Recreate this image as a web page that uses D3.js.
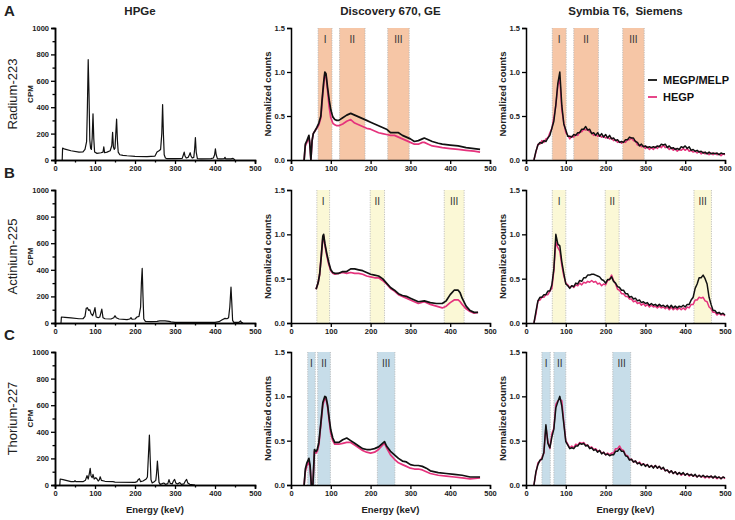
<!DOCTYPE html>
<html><head><meta charset="utf-8">
<script src="https://cdn.jsdelivr.net/npm/d3@7"></script>
<style>
body{margin:0;background:#fff;}
text{font-family:"Liberation Sans",Arial,sans-serif;}
</style></head>
<body><svg id="c" width="735" height="520"></svg>
<script>
// ---------------- DATA ----------------
const columnTitles = ["HPGe", "Discovery 670, GE", "Symbia T6,  Siemens"];
const rowLetters = ["A", "B", "C"];
const isotopes = ["Radium-223", "Actinium-225", "Thorium-227"];
const seriesNames = ["MEGP/MELP", "HEGP"];
const romans = ["I", "II", "III"];
const xTicks = [0, 100, 200, 300, 400, 500];
const cpmTicks = [0, 200, 400, 600, 800, 1000];
const normTicks = [0, 0.5, 1.0, 1.5];

// HPGe spectra [energy keV, CPM]
const hpgeRa = [[18,0],[19,90],[25,82],[40,70],[60,60],[70,62],[75,80],[79,140],[81,400],[83,760],[85,500],[87,150],[89,90],[91,80],[93,170],[95,350],[97,160],[99,60],[105,50],[115,55],[120,60],[122,100],[124,55],[130,60],[138,70],[142,110],[144,210],[146,100],[148,80],[150,90],[152,200],[154,310],[156,150],[158,60],[162,40],[170,35],[180,32],[200,28],[230,25],[250,30],[255,60],[260,70],[264,80],[267,200],[269,420],[271,200],[273,40],[276,15],[280,10],[300,10],[318,12],[321,40],[323,60],[325,30],[328,15],[333,20],[336,40],[338,55],[340,30],[343,15],[347,20],[349,80],[351,170],[353,60],[356,10],[365,8],[390,10],[396,15],[399,40],[401,85],[403,40],[406,10],[415,8],[423,10],[425,20],[427,8],[440,8],[445,12],[448,5],[450,0]];
const hpgeAc = [[15,0],[16,45],[25,42],[40,38],[60,32],[70,32],[75,50],[78,110],[81,115],[84,95],[87,100],[90,70],[94,55],[97,80],[100,115],[103,45],[108,40],[112,45],[115,80],[117,105],[120,40],[125,32],[140,30],[147,40],[150,55],[153,40],[160,30],[180,25],[187,30],[190,40],[193,28],[200,30],[205,45],[210,50],[214,120],[216,300],[218,410],[220,200],[222,30],[226,12],[240,10],[255,12],[262,16],[275,16],[285,12],[290,8],[300,5],[350,4],[400,5],[410,10],[418,25],[425,35],[430,32],[434,40],[437,120],[440,270],[442,150],[444,20],[447,5],[460,5],[464,15],[466,5],[470,0]];
const hpgeTh = [[12,0],[13,45],[20,40],[40,25],[48,25],[50,32],[52,25],[70,25],[76,35],[80,70],[83,45],[86,90],[88,125],[90,70],[93,55],[95,80],[98,45],[102,55],[105,45],[108,30],[111,40],[113,62],[116,35],[125,28],[145,25],[150,22],[200,20],[205,25],[208,40],[211,48],[214,25],[220,30],[228,45],[231,60],[234,250],[236,375],[238,200],[240,40],[243,15],[248,25],[252,35],[254,90],[256,180],[258,100],[260,20],[263,5],[268,10],[272,15],[276,5],[282,10],[285,40],[288,12],[293,8],[296,30],[299,42],[302,15],[306,8],[312,18],[316,5],[322,8],[326,30],[329,42],[332,15],[337,5],[345,2],[350,0]];

// Discovery 670 spectra [energy keV, normalized counts]
const discRaK = [[33,0],[36,0.18],[40,0.22],[45,0.28],[47,0.2],[50,0],[53,0.22],[56,0.3],[60,0.33],[65,0.37],[70,0.42],[75,0.5],[78,0.68],[82,0.88],[85,1.0],[88,0.98],[92,0.82],[96,0.68],[100,0.57],[105,0.49],[110,0.46],[115,0.45],[120,0.45],[130,0.48],[140,0.51],[150,0.53],[160,0.51],[170,0.49],[180,0.47],[190,0.45],[200,0.43],[210,0.41],[220,0.39],[230,0.37],[240,0.35],[250,0.31],[260,0.31],[270,0.31],[280,0.28],[290,0.26],[300,0.24],[310,0.21],[320,0.22],[330,0.24],[335,0.25],[345,0.23],[355,0.21],[370,0.19],[380,0.18],[400,0.17],[420,0.16],[440,0.14],[460,0.13],[475,0.12]];
const discRaH = [[33,0],[36,0.16],[40,0.2],[45,0.26],[47,0.19],[50,0],[53,0.22],[56,0.3],[60,0.33],[65,0.36],[70,0.4],[75,0.48],[78,0.65],[82,0.85],[85,0.98],[88,0.96],[92,0.78],[96,0.6],[100,0.48],[105,0.42],[110,0.4],[115,0.39],[120,0.39],[130,0.41],[140,0.44],[150,0.46],[160,0.42],[170,0.4],[180,0.38],[190,0.36],[200,0.35],[210,0.33],[220,0.31],[230,0.3],[240,0.29],[250,0.28],[260,0.28],[270,0.26],[280,0.24],[290,0.22],[300,0.2],[310,0.18],[320,0.18],[330,0.2],[335,0.2],[345,0.18],[355,0.16],[370,0.15],[380,0.14],[400,0.13],[420,0.12],[440,0.11],[460,0.1],[475,0.09]];
const discAcK = [[63,0.38],[68,0.45],[72,0.55],[76,0.75],[80,0.98],[82,1.0],[85,0.9],[90,0.78],[95,0.68],[100,0.6],[105,0.57],[110,0.56],[120,0.56],[130,0.58],[140,0.58],[150,0.61],[160,0.61],[170,0.6],[180,0.59],[190,0.57],[200,0.55],[210,0.54],[220,0.53],[230,0.5],[240,0.45],[250,0.4],[260,0.37],[270,0.33],[280,0.31],[290,0.3],[300,0.28],[310,0.26],[320,0.24],[335,0.25],[350,0.23],[365,0.22],[380,0.22],[390,0.25],[400,0.32],[410,0.37],[420,0.37],[425,0.34],[430,0.28],[440,0.19],[450,0.14],[460,0.12],[470,0.12]];
const discAcH = [[63,0.38],[68,0.45],[72,0.55],[76,0.75],[80,0.96],[82,0.98],[85,0.88],[90,0.76],[95,0.66],[100,0.59],[105,0.56],[110,0.55],[120,0.56],[130,0.57],[140,0.56],[150,0.57],[160,0.56],[170,0.56],[180,0.55],[190,0.53],[200,0.52],[210,0.51],[220,0.51],[230,0.48],[240,0.44],[250,0.39],[260,0.36],[270,0.32],[280,0.3],[290,0.28],[300,0.26],[310,0.24],[320,0.22],[335,0.24],[350,0.21],[365,0.19],[380,0.17],[390,0.19],[400,0.23],[410,0.26],[420,0.26],[425,0.24],[430,0.21],[440,0.16],[450,0.13],[460,0.11],[470,0.12]];
const discThK = [[33,0],[36,0.18],[40,0.25],[45,0.3],[48,0.22],[51,0],[55,0],[57,0.2],[59,0.4],[63,0.38],[66,0.4],[70,0.48],[75,0.7],[80,0.93],[85,1.0],[88,0.99],[92,0.9],[96,0.75],[100,0.62],[105,0.53],[110,0.48],[120,0.48],[130,0.51],[140,0.53],[150,0.5],[160,0.47],[170,0.44],[180,0.41],[190,0.4],[200,0.4],[210,0.41],[220,0.43],[230,0.47],[235,0.49],[240,0.44],[250,0.38],[260,0.34],[270,0.3],[280,0.27],[290,0.26],[300,0.23],[310,0.22],[320,0.22],[330,0.21],[340,0.19],[350,0.16],[370,0.14],[390,0.13],[410,0.12],[430,0.11],[450,0.09],[475,0.09]];
const discThH = [[33,0],[36,0.15],[40,0.22],[45,0.26],[48,0.2],[51,0],[55,0],[57,0.2],[59,0.38],[63,0.36],[66,0.38],[70,0.45],[75,0.68],[80,0.9],[85,0.98],[88,0.97],[92,0.88],[96,0.72],[100,0.58],[105,0.5],[110,0.46],[120,0.46],[130,0.47],[140,0.48],[150,0.48],[160,0.45],[170,0.42],[180,0.39],[190,0.37],[200,0.36],[210,0.37],[220,0.4],[230,0.45],[235,0.47],[240,0.42],[250,0.34],[260,0.29],[270,0.25],[280,0.23],[290,0.21],[300,0.19],[310,0.18],[320,0.18],[330,0.17],[340,0.15],[350,0.13],[370,0.11],[390,0.1],[410,0.09],[430,0.08],[450,0.07],[475,0.08]];

// Symbia T6 spectra: one value per 5 keV channel, 20..500 keV
const symbiaEnergies = d3.range(20, 501, 5);
const symRaK = [0.00,0.10,0.17,0.20,0.19,0.22,0.21,0.25,0.28,0.36, 0.44,0.63,0.87,1.00,0.62,0.41,0.34,0.27,0.27,0.26, 0.29,0.28,0.31,0.31,0.35,0.35,0.38,0.34,0.35,0.30, 0.31,0.28,0.31,0.27,0.30,0.26,0.29,0.25,0.28,0.24, 0.25,0.22,0.23,0.20,0.21,0.20,0.23,0.23,0.26,0.25, 0.25,0.21,0.20,0.16,0.18,0.15,0.16,0.14,0.15,0.14, 0.15,0.14,0.16,0.15,0.18,0.17,0.18,0.14,0.16,0.13, 0.14,0.12,0.13,0.12,0.15,0.14,0.16,0.13,0.15,0.11, 0.12,0.10,0.11,0.09,0.10,0.08,0.09,0.07,0.09,0.07, 0.08,0.07,0.08,0.06,0.08,0.07,0.07];
const symRaH = [0.00,0.09,0.18,0.18,0.22,0.20,0.24,0.25,0.31,0.36, 0.48,0.62,0.85,0.92,0.57,0.42,0.31,0.28,0.24,0.27, 0.26,0.29,0.28,0.32,0.32,0.35,0.34,0.35,0.32,0.31, 0.28,0.29,0.27,0.28,0.26,0.27,0.25,0.26,0.24,0.25, 0.22,0.23,0.20,0.21,0.19,0.21,0.20,0.23,0.23,0.25, 0.22,0.22,0.17,0.17,0.15,0.16,0.13,0.15,0.12,0.14, 0.12,0.15,0.13,0.16,0.14,0.17,0.14,0.15,0.12,0.14, 0.11,0.13,0.10,0.12,0.11,0.13,0.11,0.13,0.10,0.11, 0.09,0.10,0.08,0.10,0.07,0.09,0.07,0.08,0.06,0.08, 0.06,0.08,0.06,0.07,0.05,0.07,0.06];
const symAcK = [0.00,0.13,0.25,0.29,0.29,0.32,0.32,0.36,0.36,0.43, 0.61,1.00,0.89,0.87,0.69,0.56,0.44,0.42,0.39,0.42, 0.41,0.45,0.44,0.48,0.47,0.51,0.51,0.54,0.54,0.55, 0.55,0.54,0.53,0.52,0.49,0.48,0.45,0.49,0.49,0.52, 0.47,0.45,0.41,0.40,0.37,0.37,0.33,0.33,0.29,0.30, 0.27,0.28,0.25,0.26,0.23,0.24,0.22,0.23,0.20,0.22, 0.20,0.21,0.19,0.21,0.19,0.20,0.18,0.20,0.17,0.20, 0.17,0.19,0.17,0.19,0.18,0.20,0.18,0.21,0.21,0.26, 0.29,0.39,0.44,0.51,0.51,0.54,0.50,0.44,0.29,0.21, 0.14,0.14,0.11,0.12,0.10,0.11,0.09];
const symAcH = [0.00,0.10,0.25,0.26,0.29,0.29,0.32,0.32,0.36,0.39, 0.59,0.92,0.85,0.81,0.65,0.53,0.45,0.43,0.40,0.42, 0.40,0.43,0.42,0.45,0.43,0.46,0.45,0.47,0.46,0.48, 0.46,0.47,0.44,0.45,0.42,0.44,0.43,0.48,0.49,0.54, 0.48,0.44,0.38,0.37,0.33,0.33,0.30,0.30,0.27,0.27, 0.24,0.25,0.22,0.23,0.20,0.22,0.19,0.21,0.18,0.20, 0.18,0.19,0.17,0.19,0.17,0.18,0.16,0.18,0.15,0.18, 0.15,0.17,0.15,0.17,0.15,0.17,0.15,0.18,0.17,0.21, 0.21,0.26,0.26,0.29,0.28,0.29,0.25,0.24,0.18,0.16, 0.12,0.12,0.09,0.11,0.09,0.10,0.08];
const symThK = [0.00,0.15,0.23,0.28,0.29,0.37,0.68,0.47,0.42,0.54, 0.63,0.87,0.94,1.00,0.89,0.69,0.49,0.45,0.41,0.42, 0.41,0.44,0.44,0.47,0.46,0.47,0.44,0.45,0.41,0.42, 0.39,0.40,0.37,0.39,0.35,0.37,0.34,0.35,0.33,0.34, 0.34,0.38,0.38,0.41,0.38,0.38,0.33,0.32,0.28,0.29, 0.26,0.27,0.24,0.25,0.22,0.24,0.21,0.23,0.20,0.22, 0.19,0.22,0.19,0.21,0.18,0.20,0.16,0.17,0.14,0.16, 0.13,0.15,0.12,0.14,0.12,0.14,0.11,0.13,0.11,0.12, 0.10,0.12,0.09,0.11,0.09,0.11,0.09,0.10,0.09,0.10, 0.08,0.10,0.08,0.09,0.07,0.09,0.08];
const symThH = [0.00,0.14,0.25,0.27,0.31,0.36,0.66,0.49,0.41,0.58, 0.64,0.91,0.95,0.97,0.95,0.71,0.50,0.46,0.42,0.44, 0.42,0.46,0.45,0.48,0.47,0.48,0.45,0.45,0.42,0.43, 0.40,0.41,0.38,0.39,0.36,0.37,0.34,0.36,0.34,0.36, 0.36,0.41,0.41,0.44,0.40,0.39,0.34,0.33,0.29,0.29, 0.26,0.27,0.24,0.26,0.23,0.24,0.22,0.23,0.20,0.22, 0.20,0.22,0.19,0.21,0.18,0.19,0.16,0.17,0.14,0.16, 0.13,0.15,0.12,0.14,0.11,0.13,0.11,0.13,0.10,0.12, 0.10,0.11,0.09,0.11,0.09,0.10,0.08,0.10,0.08,0.10, 0.08,0.09,0.07,0.09,0.07,0.09,0.07];

// energy windows (keV) per row, per camera
const winRa = [[[68,103],[122,186],[243,297]], [[66,101],[120,182],[243,297]]];
const winAc = [[[65,97],[199,235],[385,435]], [[66,100],[199,234],[422,466]]];
const winTh = [[[42,61],[67,99],[217,261]], [[40,61],[70,100],[218,263]]];

// ---------------- DRAW ----------------
const svg = d3.select("#c");
const FONT = '"Liberation Sans",Arial,sans-serif';
const colX = [[55,255],[291,490],[526,725]];
const rowY = [[28,160],[190,323],[352,485]];
const colorK = "#111111", colorH = "#e5327c";
const winFill = ["#f6c6a6", "#fbf8d6", "#c7dde9"];

const hpgeData = [hpgeRa, hpgeAc, hpgeTh];
const discData = [[discRaK, discRaH], [discAcK, discAcH], [discThK, discThH]];
const symData = [[symRaK, symRaH], [symAcK, symAcH], [symThK, symThH]];
const windows = [winRa, winAc, winTh];

function drawAxes(g, x, y, yTicks, yFmt, minorX, minorY) {
  g.append("g").attr("transform", `translate(0,${y.range()[0]})`)
    .call(d3.axisBottom(x).tickValues(xTicks).tickSize(4).tickPadding(2).tickFormat(d3.format("d")));
  if (minorX) g.append("g").attr("transform", `translate(0,${y.range()[0]})`)
    .call(d3.axisBottom(x).tickValues(minorX).tickSize(2.5).tickFormat(""));
  g.append("g").attr("transform", `translate(${x.range()[0]},0)`)
    .call(d3.axisLeft(y).tickValues(yTicks).tickSize(4).tickPadding(2).tickFormat(yFmt));
  if (minorY) g.append("g").attr("transform", `translate(${x.range()[0]},0)`)
    .call(d3.axisLeft(y).tickValues(minorY).tickSize(2.5).tickFormat(""));
  g.selectAll(".domain").attr("stroke", "#000").attr("stroke-width", 1.5);
  g.selectAll(".tick line").attr("stroke", "#000").attr("stroke-width", 1.3);
  g.selectAll(".tick text").attr("font-family", FONT).attr("font-size", 7.5)
    .attr("font-weight", "bold").attr("fill", "#222");
}

rowY.forEach(([y0, y1], r) => {
  // ---- HPGe ----
  {
    const g = svg.append("g");
    const x = d3.scaleLinear().domain([0, 500]).range(colX[0]);
    const y = d3.scaleLinear().domain([0, 1000]).range([y1, y0]);
    g.append("path").datum(hpgeData[r]).attr("fill", "none").attr("stroke", "#111")
      .attr("stroke-width", 1.2).attr("stroke-linejoin", "round")
      .attr("d", d3.line().x(d => x(d[0])).y(d => y(d[1])));
    drawAxes(g, x, y, cpmTicks, d3.format("d"), d3.range(50, 500, 100), d3.range(100, 1000, 200));
    svg.append("text").attr("transform", `translate(17,${(y0 + y1) / 2}) rotate(-90)`)
      .attr("text-anchor", "middle").attr("font-size", 13).attr("fill", "#222")
      .attr("font-family", FONT).text(isotopes[r]);
    svg.append("text").attr("transform", `translate(33,${(y0 + y1) / 2}) rotate(-90)`)
      .attr("text-anchor", "middle").attr("font-size", 8).attr("font-weight", "bold")
      .attr("fill", "#222").attr("font-family", FONT).text("CPM");
  }
  // ---- Discovery & Symbia ----
  [1, 2].forEach(c => {
    const g = svg.append("g");
    const x = d3.scaleLinear().domain([0, 500]).range(colX[c]);
    const y = d3.scaleLinear().domain([0, 1.5]).range([y1, y0]);
    windows[r][c - 1].forEach((w, i) => {
      g.append("rect").attr("x", x(w[0])).attr("y", y0).attr("width", x(w[1]) - x(w[0]))
        .attr("height", y1 - y0).attr("fill", winFill[r]);
      [w[0], w[1]].forEach(e => g.append("line").attr("x1", x(e)).attr("x2", x(e))
        .attr("y1", y0).attr("y2", y1).attr("stroke", "#b5b5b5").attr("stroke-width", 0.8)
        .attr("stroke-dasharray", "1.2,1.2"));
      g.append("text").attr("x", x((w[0] + w[1]) / 2)).attr("y", y0 + 15)
        .attr("text-anchor", "middle").attr("font-size", 10).attr("fill", "#333")
        .attr("font-family", FONT).text(romans[i]);
    });
    let series;
    if (c === 1) series = discData[r].map(s => s.map(d => ({e: d[0], v: d[1]})));
    else series = symData[r].map(s => s.map((v, i) => ({e: symbiaEnergies[i], v})));
    const line = d3.line().x(d => x(d.e)).y(d => y(d.v));
    [1, 0].forEach(si => {
      g.append("path").datum(series[si]).attr("fill", "none")
        .attr("stroke", si === 0 ? colorK : colorH)
        .attr("stroke-width", c === 1 ? 1.7 : 1.5).attr("stroke-linejoin", "round")
        .attr("d", line);
    });
    drawAxes(g, x, y, normTicks, d3.format(".1f"), null, null);
    svg.append("text").attr("transform", `translate(${colX[c][0] - 20},${(y0 + y1) / 2}) rotate(-90)`)
      .attr("text-anchor", "middle").attr("font-size", 9.5).attr("font-weight", "bold")
      .attr("fill", "#222").attr("font-family", FONT).text("Normalized counts");
  });
  svg.append("text").attr("x", 4).attr("y", y0 - 12).attr("font-size", 15)
    .attr("font-weight", "bold").attr("fill", "#222").attr("font-family", FONT).text(rowLetters[r]);
});

// titles
columnTitles.forEach((t, c) => {
  svg.append("text").attr("x", (colX[c][0] + colX[c][1]) / 2 - (c === 0 ? 15 : 0)).attr("y", 15)
    .attr("text-anchor", "middle").attr("font-size", 11.5).attr("font-weight", "bold")
    .attr("fill", "#222").attr("font-family", FONT).attr("xml:space", "preserve").text(t);
  svg.append("text").attr("x", (colX[c][0] + colX[c][1]) / 2).attr("y", 513)
    .attr("text-anchor", "middle").attr("font-size", 9.5).attr("font-weight", "bold")
    .attr("fill", "#222").attr("font-family", FONT).text("Energy (keV)");
});

// legend
const lg = svg.append("g");
seriesNames.forEach((n, i) => {
  const ly = 80 + i * 17;
  lg.append("line").attr("x1", 648).attr("x2", 657).attr("y1", ly).attr("y2", ly)
    .attr("stroke", i === 0 ? colorK : colorH).attr("stroke-width", 1.8);
  lg.append("text").attr("x", 663).attr("y", ly + 4).attr("font-size", 11)
    .attr("font-weight", "bold").attr("fill", "#111").attr("font-family", FONT).text(n);
});
</script></body></html>
